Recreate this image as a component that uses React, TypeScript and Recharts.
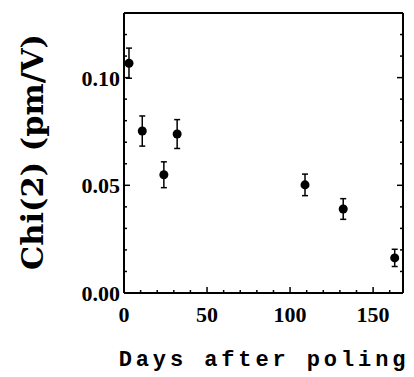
import { ScatterChart, Scatter, XAxis, YAxis, ErrorBar, ZAxis } from "recharts";

// days after poling, chi(2) in pm/V, and +/- error
const days = [3, 11, 24, 32, 109, 132, 163];
const chi = [0.1067, 0.0752, 0.0549, 0.0738, 0.0502, 0.039, 0.0163];
const err = [0.007, 0.007, 0.006, 0.0067, 0.005, 0.0048, 0.004];

const xTicks = [0, 10, 20, 30, 40, 50, 60, 70, 80, 90, 100, 110, 120, 130, 140, 150, 160];
const yTicks = [0, 0.01, 0.02, 0.03, 0.04, 0.05, 0.06, 0.07, 0.08, 0.09, 0.1, 0.11, 0.12];

const data = days.map((d, i) => ({ day: d, chi: chi[i], err: err[i] }));

const serif = "'Liberation Serif', 'Times New Roman', serif";

function isMajor(v: number, step: number) {
  const r = v / step;
  return Math.abs(r - Math.round(r)) < 1e-6;
}

function LeftTick({ x, y, payload }: any) {
  const major = isMajor(payload.value, 0.05);
  return (
    <g>
      <line x1={x} y1={y} x2={x + (major ? 6 : 3)} y2={y} stroke="#000" strokeWidth={1.5} />
      {major && (
        <text x={x - 4} y={y} dy="0.36em" textAnchor="end" fontFamily={serif} fontWeight="bold" fontSize={22} fill="#000">
          {payload.value.toFixed(2)}
        </text>
      )}
    </g>
  );
}

function RightTick({ x, y, payload }: any) {
  const major = isMajor(payload.value, 0.05);
  return <line x1={x} y1={y} x2={x - (major ? 6 : 3)} y2={y} stroke="#000" strokeWidth={1.5} />;
}

function BottomTick({ x, y, payload }: any) {
  const major = isMajor(payload.value, 50);
  return (
    <g>
      <line x1={x} y1={y} x2={x} y2={y - (major ? 6 : 3)} stroke="#000" strokeWidth={1.5} />
      {major && (
        <text x={x} y={y + 29} textAnchor="middle" fontFamily={serif} fontWeight="bold" fontSize={22} fill="#000">
          {payload.value}
        </text>
      )}
    </g>
  );
}

function TopTick({ x, y, payload }: any) {
  const major = isMajor(payload.value, 50);
  return <line x1={x} y1={y} x2={x} y2={y + (major ? 6 : 3)} stroke="#000" strokeWidth={1.5} />;
}

export default function App() {
  return (
    <div style={{ position: "absolute", left: 0, top: 0, background: "#fff" }}>
      <ScatterChart width={414} height={377} margin={{ top: 0, right: 0, bottom: 0, left: 0 }}>
        <XAxis
          xAxisId="b"
          type="number"
          dataKey="day"
          domain={[0, 168]}
          ticks={xTicks}
          interval={0}
          allowDataOverflow
          height={84}
          tickSize={0}
          tickMargin={0}
          tickLine={false}
          axisLine={{ stroke: "#000", strokeWidth: 2 }}
          tick={<BottomTick />}
          label={() => (
            <text x={264} y={366} textAnchor="middle" fontFamily="'Liberation Mono', 'Courier New', monospace" fontWeight="bold" fontSize={22} letterSpacing={3.9} fill="#000">
              Days after poling
            </text>
          )}
        />
        <XAxis
          xAxisId="t"
          orientation="top"
          type="number"
          domain={[0, 168]}
          ticks={xTicks}
          interval={0}
          allowDataOverflow
          height={13}
          tickSize={0}
          tickMargin={0}
          tickLine={false}
          axisLine={{ stroke: "#000", strokeWidth: 2 }}
          tick={<TopTick />}
        />
        <YAxis
          yAxisId="l"
          type="number"
          dataKey="chi"
          domain={[0, 0.13]}
          ticks={yTicks}
          interval={0}
          allowDataOverflow
          width={124}
          tickSize={0}
          tickMargin={0}
          tickLine={false}
          axisLine={{ stroke: "#000", strokeWidth: 2 }}
          tick={<LeftTick />}
          label={() => (
            <text
              x={43}
              y={152}
              transform="rotate(-90 43 152)"
              textAnchor="middle"
              fontFamily="'DejaVu Serif', serif"
              fontWeight="bold"
              fontSize={30.5}
              fill="#000"
            >
              Chi(2) (pm/V)
            </text>
          )}
        />
        <YAxis
          yAxisId="r"
          orientation="right"
          type="number"
          domain={[0, 0.13]}
          ticks={yTicks}
          interval={0}
          allowDataOverflow
          width={11}
          tickSize={0}
          tickMargin={0}
          tickLine={false}
          axisLine={{ stroke: "#000", strokeWidth: 2 }}
          tick={<RightTick />}
        />
        <ZAxis range={[70, 70]} />
        <Scatter data={data} xAxisId="b" yAxisId="l" fill="#000" isAnimationActive={false}>
          <ErrorBar dataKey="err" direction="y" width={3} stroke="#000" strokeWidth={1.5} />
        </Scatter>
      </ScatterChart>
    </div>
  );
}
